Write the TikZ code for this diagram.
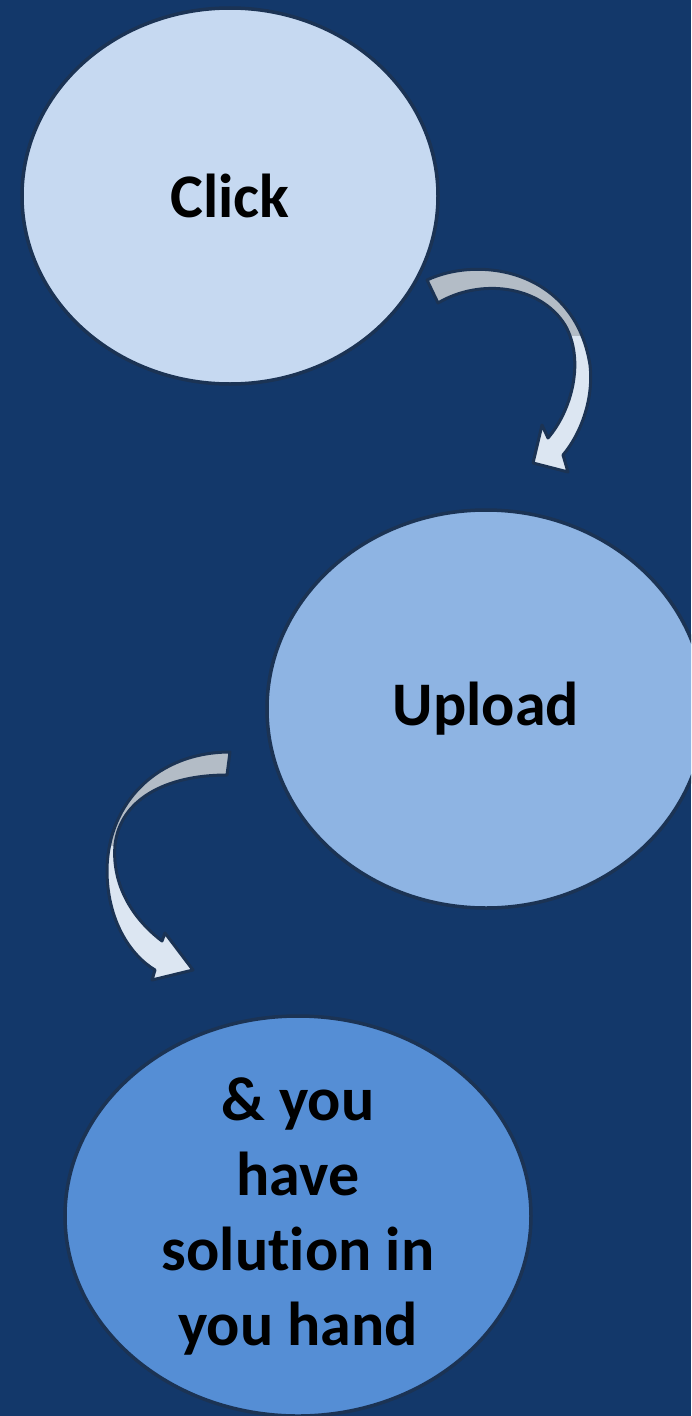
\documentclass[tikz,border=0pt]{standalone}
\usepackage{fontspec}
\setmainfont{Carlito}[Ligatures={NoCommon}, Contextuals={NoAlternate}]
\usepackage{tikz}
\usetikzlibrary{shapes.geometric}

\definecolor{bgnavy}{HTML}{13386A}
\definecolor{rimnavy}{HTML}{1B3354}
\definecolor{fillpale}{HTML}{C6D9F1}
\definecolor{fillmid}{HTML}{8EB4E3}
\definecolor{filldeep}{HTML}{558ED5}
\definecolor{arrowgrey}{HTML}{B3BCC6}
\definecolor{arrowlight}{HTML}{DCE6F2}

\begin{document}
\begin{tikzpicture}[x=1pt, y=-1pt,
    bubble/.style={ellipse, draw=rimnavy, line width=3.5pt, inner sep=0pt,
        text=black, align=center, font=\fontsize{62}{75}\selectfont\bfseries},
    arrowrim/.style={draw=rimnavy, line width=3pt, line join=round}]
% Background
\fill[bgnavy] (0,0) rectangle (691,1416);
\useasboundingbox (0,0) rectangle (691,1416);
\clip (0,0) rectangle (691,1416);

% Steps
\node[bubble, fill=fillpale, minimum width=416pt, minimum height=376pt] (click) at (230,196) {Click};
\node[bubble, fill=fillmid, minimum width=438pt, minimum height=398pt] (upload) at (486,709) {Upload};
\node[bubble, fill=filldeep, minimum width=466pt, minimum height=400pt] (solution) at (298,1216)
    {\& you\\have\\solut\kern0pt ion in\\you hand};

% Curved arrow: click -> upload
\def\arrowone{(427,280) .. controls (480,255) and (575,270) .. (590,365)
    .. controls (594,400) and (580,435) .. (563,455) -- (568,472) -- (533,463) -- (542,425) -- (548,438)
    .. controls (572,410) and (585,360) .. (565,325) .. controls (540,285) and (480,278) .. (438,303) -- cycle}
\fill[arrowlight] \arrowone;
\begin{scope}
    \clip (380,200) rectangle (650,335);
    \fill[arrowgrey] \arrowone;
\end{scope}
\draw[arrowrim] \arrowone;

% Curved arrow: upload -> solution
\def\arrowtwo{(230,752) .. controls (160,752) and (108,800) .. (107,870)
    .. controls (107,920) and (130,955) .. (155,970) -- (152,980) -- (193,970) -- (165,933) -- (162,941)
    .. controls (128,915) and (112,880) .. (115,845) .. controls (120,800) and (165,775) .. (227,775) -- cycle}
\fill[arrowlight] \arrowtwo;
\begin{scope}
    \clip (60,700) rectangle (260,845);
    \fill[arrowgrey] \arrowtwo;
\end{scope}
\draw[arrowrim] \arrowtwo;
\end{tikzpicture}
\end{document}
